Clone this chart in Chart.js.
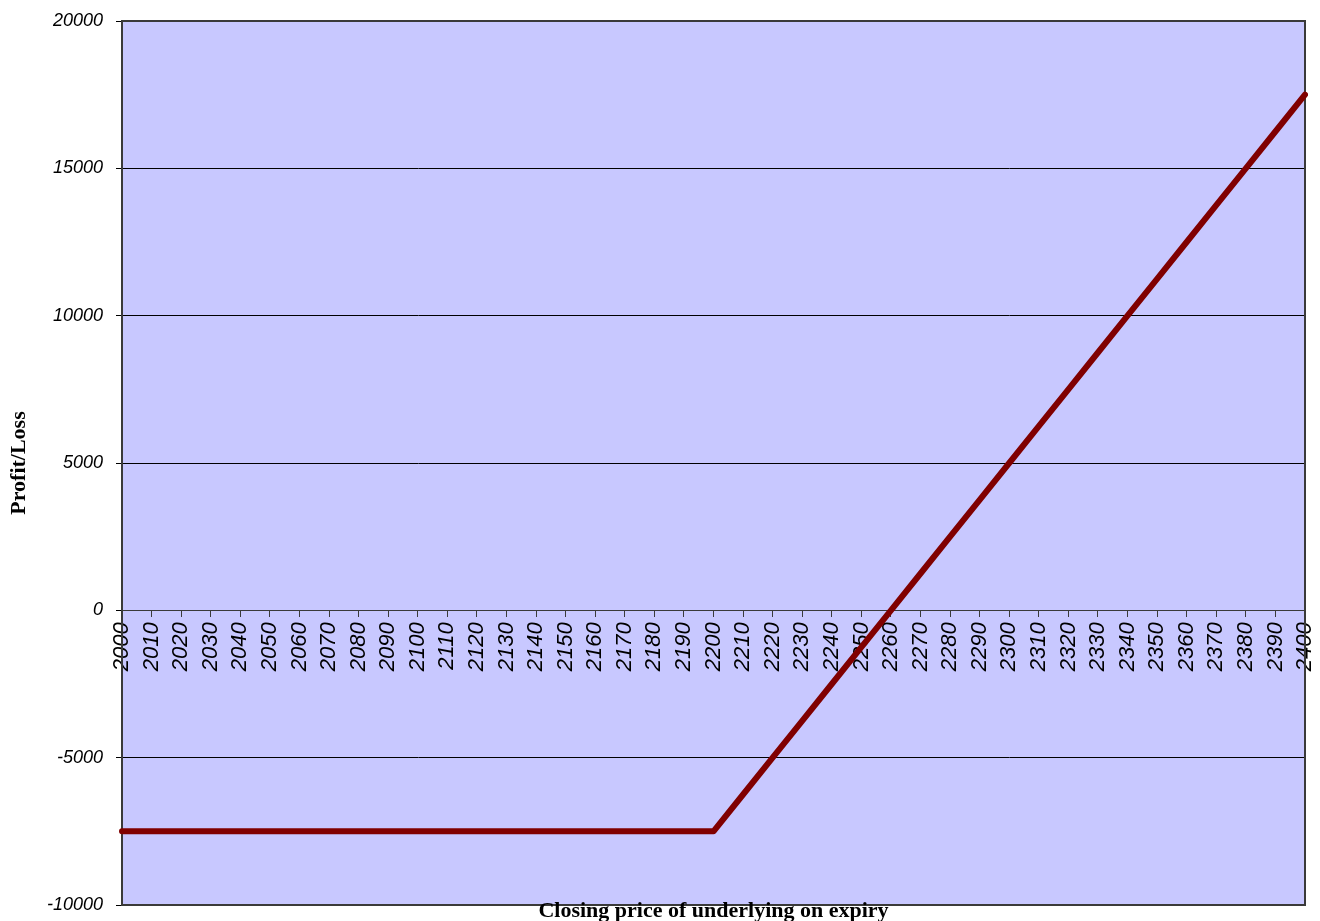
<!DOCTYPE html>
<html>
<head>
<meta charset="utf-8">
<script src="https://cdn.jsdelivr.net/npm/chart.js@4/dist/chart.umd.min.js"></script>
<style>
  html,body{margin:0;padding:0;background:#fff;}
  #wrap{width:1320px;height:921px;position:relative;}
</style>
</head>
<body>
<div id="wrap"><canvas id="mainChart"></canvas></div>
<script>
// closing price on expiry (x categories)
const prices = [2000,2010,2020,2030,2040,2050,2060,2070,2080,2090,
  2100,2110,2120,2130,2140,2150,2160,2170,2180,2190,
  2200,2210,2220,2230,2240,2250,2260,2270,2280,2290,
  2300,2310,2320,2330,2340,2350,2360,2370,2380,2390,2400];
// profit / loss
const profitLoss = [-7500,-7500,-7500,-7500,-7500,-7500,-7500,-7500,-7500,-7500,
  -7500,-7500,-7500,-7500,-7500,-7500,-7500,-7500,-7500,-7500,
  -7500,-6250,-5000,-3750,-2500,-1250,0,1250,2500,3750,
  5000,6250,7500,8750,10000,11250,12500,13750,15000,16250,17500];
const yTicks = [-10000,-5000,0,5000,10000,15000,20000];
const xTitle = 'Closing price of underlying on expiry';
const yTitle = 'Profit/Loss';

const plotFrame = {
  id:'plotFrame',
  beforeDraw(chart){
    const {ctx, chartArea:a} = chart;
    ctx.save();
    ctx.fillStyle = '#C8C8FF';
    ctx.fillRect(a.left, a.top, a.right-a.left, a.bottom-a.top);
    ctx.restore();
  },
  beforeDatasetsDraw(chart){
    const {ctx, chartArea:a} = chart;
    ctx.save();
    ctx.strokeStyle = '#3a3a3a';
    ctx.lineWidth = 2;
    ctx.strokeRect(a.left, a.top, a.right-a.left, a.bottom-a.top);
    ctx.restore();
  },
  afterDraw(chart){
    const {ctx, chartArea:a} = chart;
    ctx.save();
    ctx.fillStyle = '#000';
    ctx.font = 'bold 22px "Liberation Serif", serif';
    ctx.textAlign = 'center';
    ctx.textBaseline = 'alphabetic';
    ctx.fillText(xTitle, (a.left+a.right)/2, 917);
    ctx.restore();
  }
};

document.addEventListener('DOMContentLoaded', ()=>{
  const ctx = document.getElementById('mainChart');
  new Chart(ctx,{
    type:'line',
    data:{
      labels:prices,
      datasets:[{data:profitLoss, borderColor:'#800000', borderWidth:6, pointRadius:0,
        borderCapStyle:'round', borderJoinStyle:'round', tension:0, fill:false}]
    },
    options:{
      responsive:true, maintainAspectRatio:false, animation:false,
      layout:{padding:{top:21, right:15, bottom:16, left:0}},
      plugins:{legend:{display:false}, tooltip:{enabled:false}},
      scales:{
        x:{
          type:'category', position:{y:0}, offset:false,
          afterFit: s => { s.paddingLeft = 0; s.paddingRight = 0; },
          grid:{drawOnChartArea:false, drawTicks:true, tickLength:6, color:'#3a3a3a'},
          border:{display:true, color:'#3a3a3a', width:1},
          ticks:{autoSkip:false, minRotation:90, maxRotation:90, padding:6, color:'#000',
            font:{family:'"Liberation Sans", Arial, sans-serif', size:22, style:'italic'}}
        },
        y:{
          min:-10000, max:20000,
          afterBuildTicks: s => { s.ticks = yTicks.map(v=>({value:v})); },
          afterFit: s => { s.width = 122; s.paddingTop = 0; s.paddingBottom = 0; },
          grid:{color:'#000', lineWidth:1, tickLength:6, drawTicks:true},
          border:{display:true, color:'#3a3a3a', width:2},
          ticks:{padding:13, color:'#000', callback:v=>String(v),
            font:{family:'"Liberation Sans", Arial, sans-serif', size:18, style:'italic'}},
          title:{display:true, text:yTitle, color:'#000', padding:{top:6,bottom:0},
            font:{family:'"Liberation Serif", serif', size:22, weight:'bold'}}
        }
      }
    },
    plugins:[plotFrame]
  });
});
</script>
</body>
</html>
